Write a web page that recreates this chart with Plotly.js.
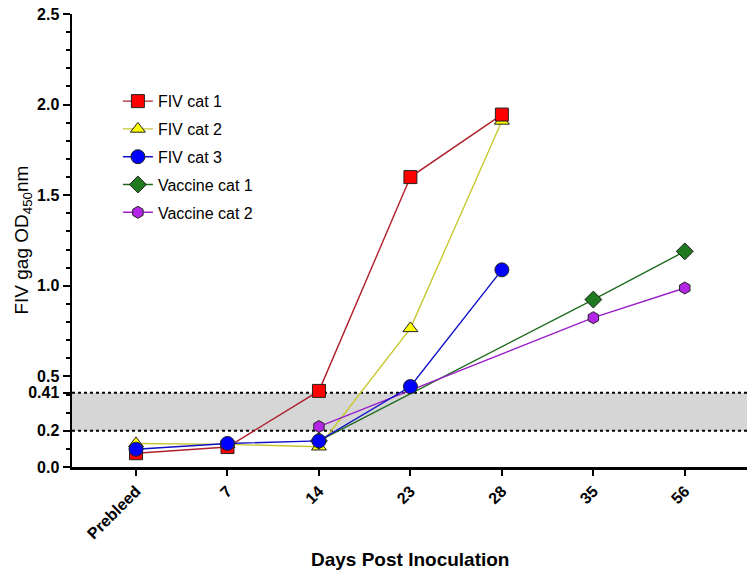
<!DOCTYPE html>
<html>
<head>
<meta charset="utf-8">
<script src="https://cdn.plot.ly/plotly-3.0.1.min.js"></script>
<style>
  html, body { margin: 0; padding: 0; background: #ffffff; }
  #chart { width: 755px; height: 576px; }
</style>
</head>
<body>
<div id="chart"></div>
<script>
// Sampling days (categorical x axis).
const days = ['Prebleed', '7', '14', '23', '28', '35', '56'];

const fivCat1 = [0.076, 0.11, 0.42, 1.60, 1.945, null, null];
const fivCat2 = [0.13, 0.125, 0.112, 0.765, 1.91, null, null];
const fivCat3 = [0.098, 0.13, 0.144, 0.444, 1.088, null, null];
const vaccineCat1 = [null, null, 0.144, null, null, 0.924, 1.19];
const vaccineCat2 = [null, null, 0.223, null, null, 0.824, 0.988];

// Cut-off band.
const cutLow = 0.2;
const cutHigh = 0.41;

// Y tick labels.
const yTickVals = [0, 0.2, 0.41, 0.5, 1.0, 1.5, 2.0, 2.5];
const yTickText = ['0.0', '0.2', '0.41', '0.5', '1.0', '1.5', '2.0', '2.5'];

const FONT = 'Arial, "Liberation Sans", sans-serif';

// Build one trace for a cat.
function catTrace(name, values, lineColor, fillColor, symbol, size, rank) {
    return {
        x: days,
        y: values,
        name: name,
        legendgroup: name,
        type: 'scatter',
        mode: 'lines+markers',
        connectgaps: true,
        legendrank: rank,
        line: { color: lineColor, width: 1.4 },
        marker: {
            symbol: symbol,
            size: size,
            color: fillColor,
            line: { color: '#222222', width: 1 }
        }
    };
}

// Trace order picks which markers sit on top, legendrank keeps the legend order.
const traces = [
    catTrace('FIV cat 2', fivCat2, '#c8c830', '#ffff00', 'triangle-up', 13, 2),
    catTrace('FIV cat 1', fivCat1, '#b0202a', '#ff0000', 'square', 13, 1),
    catTrace('Vaccine cat 1', vaccineCat1, '#1f6b1f', '#1f7a1f', 'diamond', 13, 4),
    catTrace('Vaccine cat 2', vaccineCat2, '#9a1fc8', '#b326e6', 'hexagon', 12, 5),
    catTrace('FIV cat 3', fivCat3, '#1010c8', '#0000ff', 'circle', 14, 3)
];

Plotly.newPlot(document.getElementById('chart'), traces, {
    width: 755,
    height: 576,
    margin: { l: 72, r: 8, t: 14, b: 109 },
    paper_bgcolor: '#ffffff',
    plot_bgcolor: '#ffffff',
    font: { family: FONT, color: '#000000' },
    showlegend: true,
    legend: {
        x: 0.068, y: 0.845, xanchor: 'left', yanchor: 'top',
        font: { family: FONT, size: 16, color: '#000000' },
        bgcolor: 'rgba(0,0,0,0)',
        tracegroupgap: 4
    },
    xaxis: {
        type: 'category',
        range: [-0.70, 6.68],
        showline: true, linecolor: '#000000', linewidth: 2.5,
        ticks: 'outside', ticklen: 6, tickwidth: 2, tickcolor: '#000000',
        tickangle: -45,
        tickfont: { family: FONT, size: 16, color: '#000000', weight: 'bold' },
        showgrid: false, zeroline: false, fixedrange: true
    },
    yaxis: {
        range: [0, 2.5],
        showline: true, linecolor: '#000000', linewidth: 2.5,
        ticks: 'outside', ticklen: 7, tickwidth: 2, tickcolor: '#000000',
        tickmode: 'array', tickvals: yTickVals, ticktext: yTickText,
        tickfont: { family: FONT, size: 16, color: '#000000', weight: 'bold' },
        minor: { dtick: 0.1, tick0: 0, ticklen: 4, tickwidth: 2, tickcolor: '#000000', ticks: 'outside', showgrid: false },
        showgrid: false, zeroline: false, fixedrange: true
    },
    // Axis titles as annotations so they sit where the original puts them.
    annotations: [
        {
            text: 'FIV gag OD<sub>450</sub>nm',
            xref: 'paper', yref: 'paper', x: -0.074, y: 0.5,
            xanchor: 'center', yanchor: 'middle', textangle: -90,
            showarrow: false,
            font: { family: FONT, size: 19, color: '#000000' }
        },
        {
            text: '<b>Days Post Inoculation</b>',
            xref: 'paper', yref: 'paper', x: 0.5, y: -0.205,
            xanchor: 'center', yanchor: 'middle',
            showarrow: false,
            font: { family: FONT, size: 19, color: '#000000' }
        }
    ],
    shapes: [
        {
            type: 'rect', xref: 'paper', yref: 'y', layer: 'below',
            x0: 0, x1: 1, y0: cutLow, y1: cutHigh,
            fillcolor: '#d6d6d6', line: { width: 0 }
        },
        {
            type: 'line', xref: 'paper', yref: 'y', layer: 'below',
            x0: 0, x1: 1, y0: cutLow, y1: cutLow,
            line: { color: '#000000', width: 2, dash: 'dot' }
        },
        {
            type: 'line', xref: 'paper', yref: 'y', layer: 'below',
            x0: 0, x1: 1, y0: cutHigh, y1: cutHigh,
            line: { color: '#000000', width: 2, dash: 'dot' }
        }
    ]
}, { staticPlot: true });
</script>
</body>
</html>
